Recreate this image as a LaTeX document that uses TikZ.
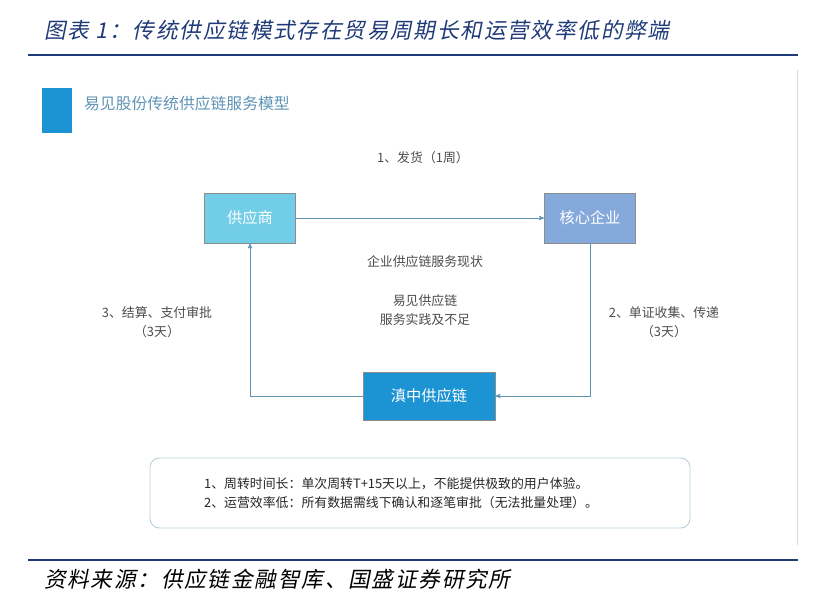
\documentclass[tikz,border=0pt]{standalone}
\usepackage{fontspec}
\setmainfont{Liberation Sans}
\newfontfamily\cjk{Noto Sans CJK SC}
\newfontfamily\cjkit[FakeSlant=0.2,LetterSpace=8]{Noto Sans CJK SC}
\usetikzlibrary{arrows,positioning}
\definecolor{navy}{HTML}{1F3A78}
\definecolor{supc}{HTML}{72CDE6}
\definecolor{corec}{HTML}{86A9DC}
\definecolor{dianc}{HTML}{1C93D2}
\definecolor{linec}{HTML}{5E93B5}
\begin{document}
\begin{tikzpicture}[x=0.03cm,y=-0.03cm,>=stealth',
		party/.style={rectangle,draw=black!45,line width=0.6pt,text=white,font=\cjk\fontsize{13}{15}\selectfont,minimum width=2.73cm,minimum height=1.5cm},
		flow/.style={->,draw=linec,line width=0.6pt},
		lbl/.style={font=\cjk\fontsize{11}{16}\selectfont,text=black!70,align=center}]
		\useasboundingbox (0,0) rectangle (814,598);
		% heading and source
		\node (head) [anchor=west,text=navy,font=\cjkit\fontsize{18.5}{20}\selectfont] at (40,30) {图表 1：传统供应链模式存在贸易周期长和运营效率低的弊端};
		\draw[navy,line width=1.2pt] (28,55) -- (798,55);
		\draw[navy,line width=1.2pt] (28,560) -- (798,560);
		\node (src) [anchor=west,text=black,font=\cjkit\fontsize{18.5}{20}\selectfont] at (40,579) {资料来源：供应链金融智库、国盛证券研究所};
		\draw[black!15,line width=0.8pt] (797,70) -- (797,545);
		
		% panel title
		\fill[dianc] (42,88) rectangle (72,133);
		\node (ptitle) [anchor=west,text=linec,font=\cjk\fontsize{13.5}{15}\selectfont] at (80,103) {易见股份传统供应链服务模型};
		
		\node[party,fill=supc]   (sup)  at (250,218) {供应商};
		\node[party,fill=corec]  (core) at (590,218) {核心企业};
		\node[party,fill=dianc,minimum width=3.96cm,minimum height=1.44cm] (dian) at (429,396) {滇中供应链};
		
		\draw[flow] (sup) -- (core);
		\draw[flow] (core.south) |- (dian.east);
		\draw[flow] (dian.west) -| (sup.south);
		
		\node[lbl] (l1) at (423,158) {1、发货（1周）};
		\node[lbl] (l2) at (664,322) {2、单证收集、传递\\（3天）};
		\node[lbl] (l3) at (157,322) {3、结算、支付审批\\（3天）};
		\node[lbl] (st1) at (425,262) {企业供应链服务现状};
		\node[lbl] (st2) at (425,310) {易见供应链\\服务实践及不足};
		
		\draw[draw=supc!70!black!40,line width=0.8pt,rounded corners=8pt] (150,458) rectangle (690,528);
		\node[lbl,align=left,anchor=west,text=black!85] (note) at (200,493) {1、周转时间长：单次周转T+15天以上，不能提供极致的用户体验。\\2、运营效率低：所有数据需线下确认和逐笔审批（无法批量处理）。};
\end{tikzpicture}
\end{document}
